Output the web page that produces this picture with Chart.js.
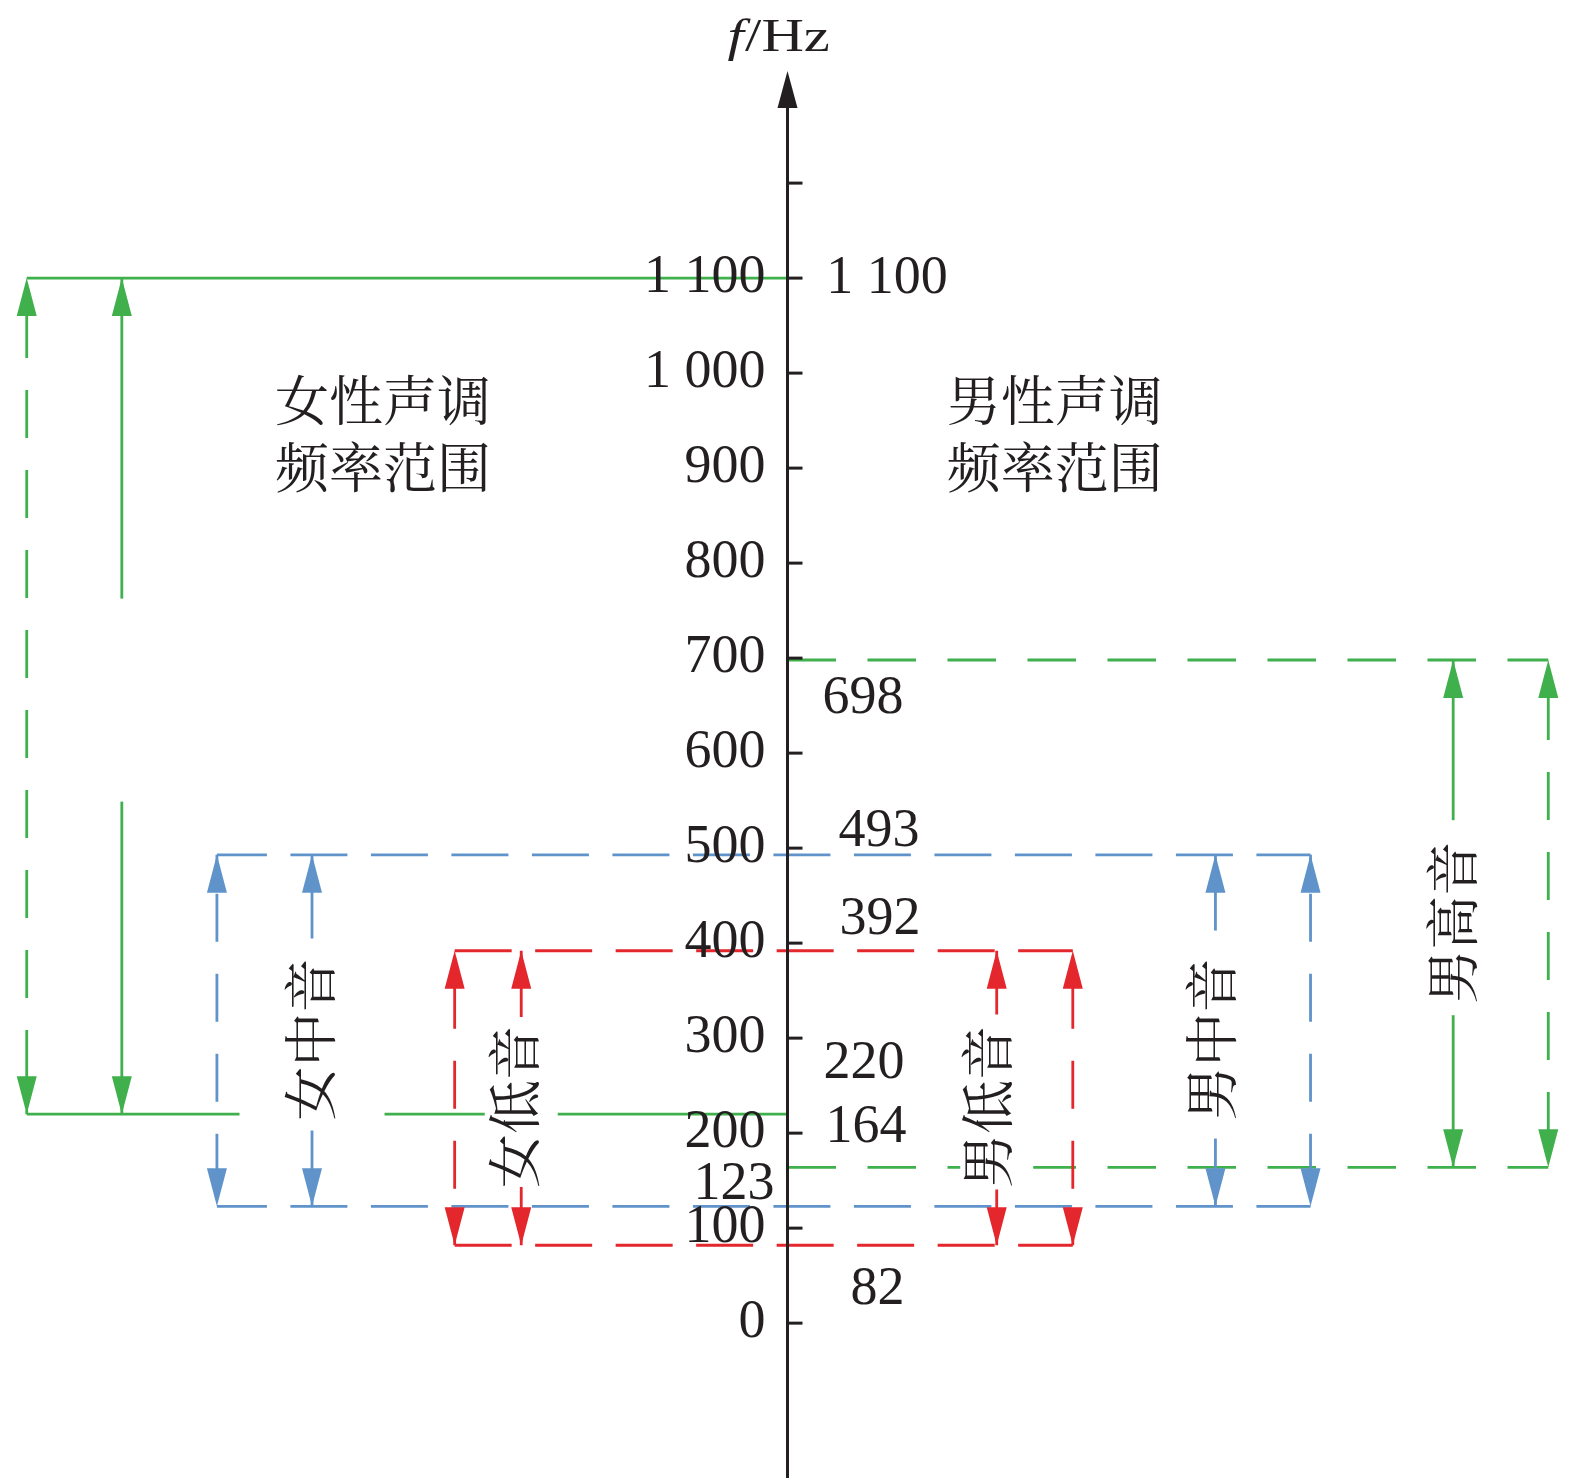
<!DOCTYPE html>
<html>
<head>
<meta charset="utf-8">
<title>男女声调频率范围</title>
<script src="https://cdn.jsdelivr.net/npm/chart.js@4.4.0/dist/chart.umd.min.js"></script>
<style>
  html, body { margin: 0; padding: 0; background: #fff; }
  #wrap { width: 1575px; height: 1482px; }
</style>
</head>
<body>
<div id="wrap"><canvas id="voiceChart" width="1575" height="1482"></canvas></div>
<script>
// voice ranges in Hz (female left of the axis, male right)
const voiceNames = ["", "女中音", "女低音", "男低音", "男中音", "男高音"];
const voiceLow  = [220, 123, 82, 82, 123, 164];
const voiceHigh = [1100, 493, 392, 392, 493, 698];

// axis ticks
const tickValues = [0, 100, 200, 300, 400, 500, 600, 700, 800, 900, 1000, 1100, 1200];
const tickLabels = ["0", "100", "200", "300", "400", "500", "600", "700", "800", "900", "1 000", "1 100", ""];

// levels written beside the axis
const levelValues = [1100, 698, 493, 392, 220, 164, 123, 82];
const levelLabels = ["1 100", "698", "493", "392", "220", "164", "123", "82"];

const headings = [["女性声调", "频率范围"], ["男性声调", "频率范围"]];

// ---- layout / style ----
const GREEN = "#3fb04c", BLUE = "#5f93ca", RED = "#e4262d", INK = "#231f20";
const voiceColor = [GREEN, BLUE, RED, RED, BLUE, GREEN];
// columns in axis units (1 unit = one tick step)
const dashedCol = [-8, -6, -3.5, 3, 5.5, 8];
const solidCol  = [-7, -5, -2.8, 2.2, 4.5, 7];
// horizontal guide [from, to, dashed]; shared guides drawn once
const guideSpan = [[-8, 0, false], [-6, 5.5, true], [-3.5, 3, true], null, null, [0, 8, true]];
const gapBox = [[30, 203], [145, 192], [73, 170], [73, 175], [60, 208], [60, 195]]; // w, h px
const labelShift = [0, -2, -7, -9, -4, -1];
const vDashOffset = { [GREEN]: 48, [BLUE]: 41, [RED]: 50 };
const levelLabelPos = [[1.046, 1099], [0.794, 657], [0.962, 517], [0.973, 425],
                       [0.804, 273], [0.825, 206], [-0.562, 146], [0.946, 35]];
const headingPos = [[-5.389, 971.7, 900.6], [1.674, 971.7, 900.6]];

const NUM_FONT = '54px "Liberation Serif", "Times New Roman", serif';
const CJK_FONT = '54px "Noto Serif CJK SC", "Noto Sans CJK SC", sans-serif';
const LINE_W = 2.8;

const datasets = [];
function seg(points, color, dash, offset) {
  datasets.push({
    data: points, borderColor: color, borderWidth: LINE_W,
    borderDash: dash, borderDashOffset: offset,
    showLine: true, pointRadius: 0, pointHoverRadius: 0, fill: false, clip: false
  });
}

voiceLow.forEach((lo, i) => {
  const hi = voiceHigh[i], c = voiceColor[i], g = guideSpan[i];
  if (g) {
    const dash = g[2] ? (c === GREEN ? [48.5, 31.5] : [57, 23.5]) : [];
    const off = c === BLUE ? 7 : 0;
    [hi, lo].forEach(v => seg([{ x: g[0], y: v }, { x: g[1], y: v }], c, dash, off));
  }
  seg([{ x: dashedCol[i], y: hi }, { x: dashedCol[i], y: lo }], c, [48, 32], vDashOffset[c]);
  seg([{ x: solidCol[i], y: hi }, { x: solidCol[i], y: lo }], c, [], 0);
});

function arrowHead(ctx, px, tip, dir, color, len, half) {
  // dir = -1 points up, +1 points down
  ctx.fillStyle = color;
  ctx.beginPath();
  ctx.moveTo(px, tip);
  ctx.lineTo(px - half, tip - dir * len);
  ctx.lineTo(px + half, tip - dir * len);
  ctx.closePath();
  ctx.fill();
}

const diagram = {
  id: "diagram",
  afterDatasetsDraw(chart) {
    const ctx = chart.ctx, xs = chart.scales.x, ys = chart.scales.y;
    const area = chart.chartArea;
    const ax = xs.getPixelForValue(0);
    ctx.save();

    // gaps + voice names
    voiceLow.forEach((lo, i) => {
      const hi = voiceHigh[i];
      const px = xs.getPixelForValue(solidCol[i]);
      const py = ys.getPixelForValue((lo + hi) / 2);
      ctx.fillStyle = "#fff";
      ctx.fillRect(px - gapBox[i][0] / 2, py + 4 - gapBox[i][1] / 2, gapBox[i][0], gapBox[i][1]);
      if (voiceNames[i]) {
        ctx.save();
        ctx.translate(px + labelShift[i], py + 9);
        ctx.rotate(-Math.PI / 2);
        ctx.font = CJK_FONT;
        ctx.fillStyle = INK;
        ctx.textAlign = "center";
        ctx.textBaseline = "middle";
        ctx.fillText(voiceNames[i], 0, 0);
        ctx.restore();
      }
      // arrow heads
      [dashedCol[i], solidCol[i]].forEach(col => {
        const cx = xs.getPixelForValue(col);
        arrowHead(ctx, cx, ys.getPixelForValue(hi), -1, voiceColor[i], 38, 10);
        arrowHead(ctx, cx, ys.getPixelForValue(lo), 1, voiceColor[i], 38, 10);
      });
    });

    // axis
    ctx.strokeStyle = INK;
    ctx.lineWidth = 3;
    ctx.beginPath();
    ctx.moveTo(ax, area.bottom);
    ctx.lineTo(ax, area.top + 30);
    ctx.stroke();
    arrowHead(ctx, ax, area.top, -1, INK, 37, 10);

    ctx.font = NUM_FONT;
    ctx.fillStyle = INK;
    ctx.textBaseline = "middle";
    ctx.textAlign = "right";
    tickValues.forEach((v, k) => {
      const py = ys.getPixelForValue(v);
      ctx.beginPath();
      ctx.moveTo(ax, py);
      ctx.lineTo(ax + 15, py);
      ctx.stroke();
      if (tickLabels[k]) ctx.fillText(tickLabels[k], ax - 22, py);
    });

    // level values
    ctx.textAlign = "center";
    levelValues.forEach((v, k) => {
      const p = levelLabelPos[k];
      ctx.fillText(levelLabels[k], xs.getPixelForValue(p[0]), ys.getPixelForValue(p[1]));
    });

    // headings
    ctx.font = CJK_FONT;
    ctx.textAlign = "left";
    headings.forEach((lines, k) => {
      const p = headingPos[k];
      ctx.fillText(lines[0], xs.getPixelForValue(p[0]), ys.getPixelForValue(p[1]));
      ctx.fillText(lines[1], xs.getPixelForValue(p[0]), ys.getPixelForValue(p[2]));
    });

    // axis title f/Hz (slightly widened like the original)
    ctx.save();
    ctx.translate(ax - 60, area.top - 20);
    ctx.scale(1.25, 1);
    ctx.textBaseline = "alphabetic";
    ctx.font = 'italic 47px "Liberation Serif", serif';
    ctx.fillText("f", 0, 0);
    const fw = ctx.measureText("f").width;
    ctx.font = '47px "Liberation Serif", serif';
    ctx.fillText("/Hz", fw + 1, 0);
    ctx.restore();

    ctx.restore();
  }
};

function draw() {
  new Chart(document.getElementById("voiceChart"), {
    type: "scatter",
    data: { datasets },
    options: {
      responsive: false,
      animation: false,
      devicePixelRatio: 1,
      layout: { padding: { left: 0, right: 0, top: 71, bottom: 4 } },
      scales: {
        x: { type: "linear", min: -8.281, max: 8.281, display: false },
        y: { type: "linear", min: -163, max: 1318, display: false }
      },
      plugins: { legend: { display: false }, tooltip: { enabled: false } },
      events: []
    },
    plugins: [diagram]
  });
}

Promise.all([
  document.fonts.load(NUM_FONT),
  document.fonts.load(CJK_FONT, "女中音"),
  document.fonts.load('italic 47px "Liberation Serif"')
]).then(draw, draw);
</script>
</body>
</html>
